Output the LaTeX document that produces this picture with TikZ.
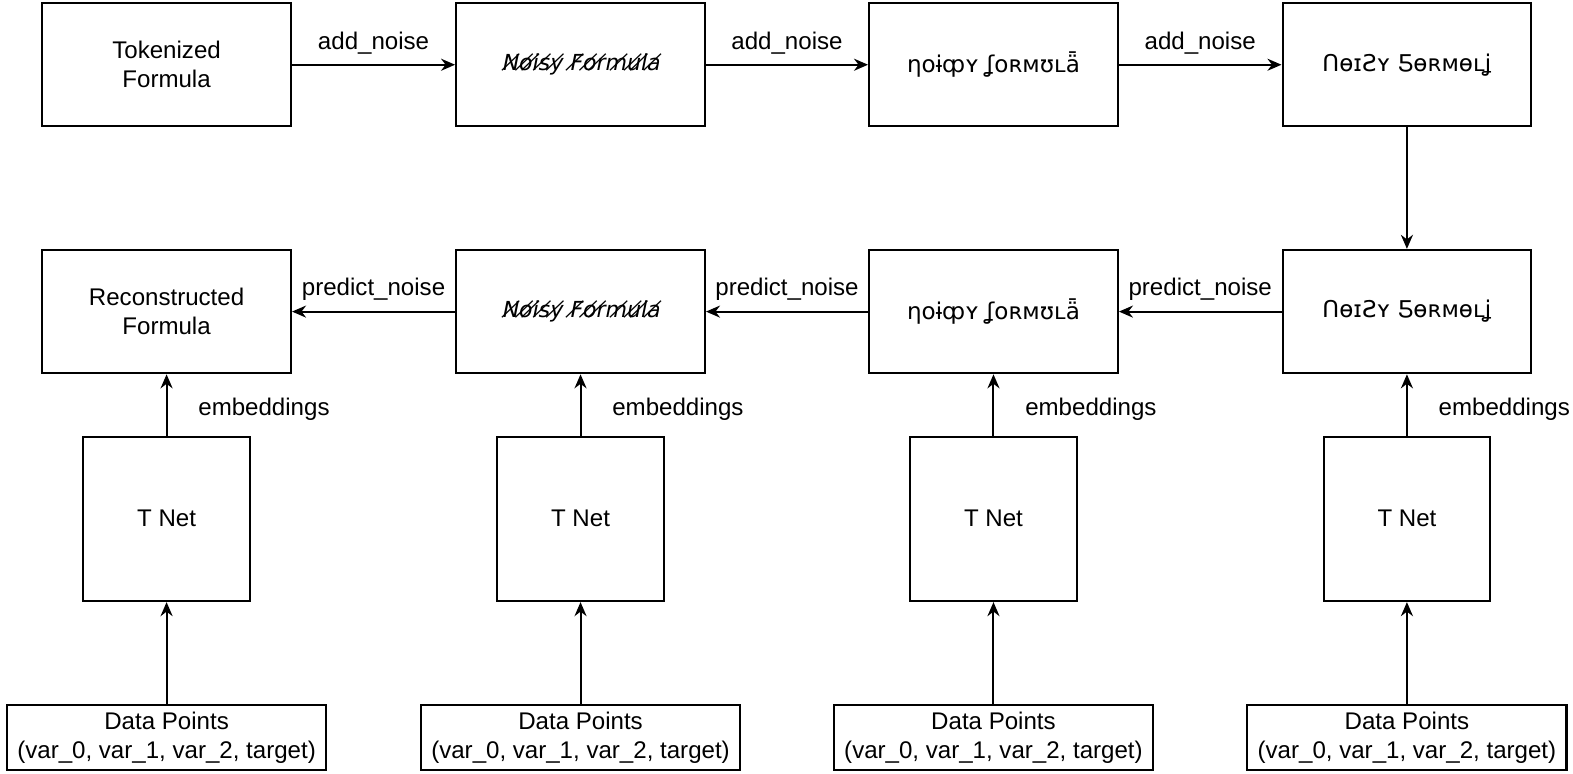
\documentclass[tikz,border=0pt]{standalone}
\usepackage{fontspec}
\setmainfont{Liberation Sans}
\newfontfamily\glyphfont{DejaVu Sans}
\newfontfamily\slashfont[FakeSlant=0.2]{DejaVu Sans}
\usetikzlibrary{arrows.meta, positioning}

\begin{document}
\begin{tikzpicture}[
        x=0.5pt, y=-0.5pt,
        font=\fontsize{12}{14.5}\selectfont,
        box/.style={rectangle, draw, line width=1pt, minimum height=61.5pt, minimum width=124pt, align=center},
        net/.style={rectangle, draw, line width=1pt, minimum height=82pt, minimum width=83pt},
        data/.style={rectangle, draw, line width=1pt, minimum height=32pt, minimum width=159pt, inner sep=1pt, align=center},
        noisy/.style={font=\glyphfont\fontsize{11.5}{14}\selectfont},
        struck/.style={font=\slashfont\fontsize{11}{14}\selectfont},
        arrow/.style={-{Stealth[length=7pt, width=6pt]}, line width=1pt},
        lbl/.style={above, yshift=1.5pt}
    ]
        \useasboundingbox (0,0) rectangle (1567.5,771.2);

        % forward: adding noise
        \node[box] (T) at (166,64.5) {Tokenized\\Formula};
        \node[box, struck] (A1) at (578.5,64.5) {N̸o̸i̸s̸y̸ F̸o̸r̸m̸u̸l̸a̸};
        \node[box, noisy] (A2) at (990,64.5) {ƞoɨȹʏ ʆoʀᴍʊʟǟ};
        \node[box, noisy] (A3) at (1402,64.5) {ՈɵɪƧʏ Ƽɵʀᴍɵʟʝ};
        \draw[arrow] (T) -- (A1) node[midway, lbl] {add\_noise};
        \draw[arrow] (A1) -- (A2) node[midway, lbl] {add\_noise};
        \draw[arrow] (A2) -- (A3) node[midway, lbl] {add\_noise};

        % reverse: predicting noise
        \node[box] (R) at (166,310.5) {Reconstructed\\Formula};
        \node[box, struck] (B1) at (578.5,310.5) {N̸o̸i̸s̸y̸ F̸o̸r̸m̸u̸l̸a̸};
        \node[box, noisy] (B2) at (990,310.5) {ƞoɨȹʏ ʆoʀᴍʊʟǟ};
        \node[box, noisy] (B3) at (1402,310.5) {ՈɵɪƧʏ Ƽɵʀᴍɵʟʝ};
        \draw[arrow] (A3) -- (B3);
        \draw[arrow] (B3) -- (B2) node[midway, lbl] {predict\_noise};
        \draw[arrow] (B2) -- (B1) node[midway, lbl] {predict\_noise};
        \draw[arrow] (B1) -- (R) node[midway, lbl] {predict\_noise};

        % conditioning on data points
        \foreach \i/\x/\f in {1/166/R, 2/578.5/B1, 3/990/B2, 4/1402/B3} {
            \node[net] (N\i) at (\x,517) {T Net};
            \node[data] (D\i) at (\x,735) {Data Points\\(var\_0, var\_1, var\_2, target)};
            \draw[arrow] (D\i) -- (N\i);
            \draw[arrow] (N\i) -- (\f) node[midway, right, xshift=12pt, yshift=-2pt] {embeddings};
        }
    \end{tikzpicture}
\end{document}
